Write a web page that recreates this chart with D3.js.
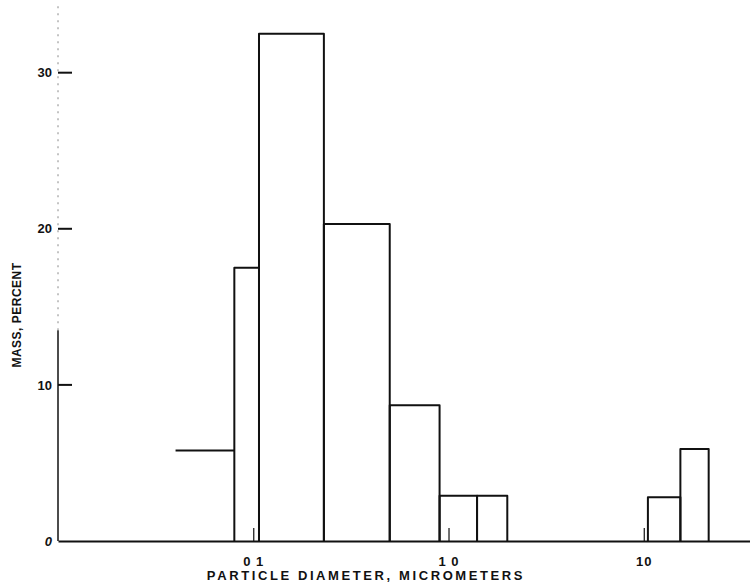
<!DOCTYPE html>
<html>
<head>
<meta charset="utf-8">
<script src="https://cdn.jsdelivr.net/npm/d3@7"></script>
<style>
  body { margin: 0; background: #fff; }
  text { font-family: "Liberation Sans", Arial, sans-serif; font-weight: bold; fill: #111; }
</style>
</head>
<body>
<div id="chart"></div>
<script>
// bin edges (micrometers) and mass percent per bin
var binLo   = [0.04, 0.08, 0.107, 0.23, 0.5, 0.9, 1.4, 10.5, 15.4];
var binHi   = [0.08, 0.107, 0.23, 0.5, 0.9, 1.4, 2.0, 15.4, 21.5];
var massPct = [5.8, 17.5, 32.5, 20.3, 8.7, 2.9, 2.9, 2.8, 5.9];

var xTicks = [0.1, 1, 10];
var xTickLabels = ["0 1", "1 0", "10"];
var yTicks = [0, 10, 20, 30];

var width = 750, height = 585;

var svg = d3.select("#chart")
  .append("svg")
    .attr("width", width)
    .attr("height", height);

var x = d3.scaleLog()
  .domain([0.01, 35])
  .range([58, 750]);

var y = d3.scaleLinear()
  .domain([0, 34.4])
  .range([541, 4]);

var axisX = x(0.01);

// y axis: solid lower part, faded upper part (as in the scan)
svg.append("line")
  .attr("x1", axisX).attr("x2", axisX)
  .attr("y1", y(0)).attr("y2", y(13.5))
  .attr("stroke", "#111").attr("stroke-width", 1.5);
svg.append("line")
  .attr("x1", axisX).attr("x2", axisX)
  .attr("y1", y(13.5)).attr("y2", y(34.4))
  .attr("stroke", "#888").attr("stroke-width", 1)
  .attr("stroke-dasharray", "2,5");

var yAxis = svg.append("g")
  .attr("transform", "translate(" + axisX + ",0)")
  .call(d3.axisLeft(y)
    .tickValues(yTicks)
    .tickSize(0)
    .tickPadding(6)
    .tickFormat(d3.format("d")));
yAxis.select(".domain").remove();
yAxis.selectAll(".tick text")
  .style("font-size", "13px")
  .style("font-style", function(d) { return d === 0 ? "italic" : "normal"; });

// inward tick marks on the y axis
svg.append("g")
  .attr("class", "ytickmarks")
  .selectAll("rect")
  .data(yTicks.slice(1))
  .enter().append("rect")
    .attr("x", axisX)
    .attr("y", function(d) { return y(d) - 1; })
    .attr("width", 14)
    .attr("height", 2)
    .attr("fill", "#111");

// x axis along the baseline
var xAxis = svg.append("g")
  .attr("transform", "translate(0," + y(0) + ")")
  .call(d3.axisBottom(x)
    .tickValues(xTicks)
    .tickSizeInner(-13)
    .tickSizeOuter(0)
    .tickPadding(16)
    .tickFormat(function(d, i) { return xTickLabels[i]; }));
xAxis.select(".domain").attr("stroke", "#111").attr("stroke-width", 2);
xAxis.selectAll(".tick line").attr("stroke", "#111").attr("stroke-width", 1.2);
xAxis.selectAll(".tick text").style("font-size", "13px").style("letter-spacing", "1px");

// histogram bars as open outlines (left, top, right)
var bins = d3.range(massPct.length).map(function(i) {
  return {lo: binLo[i], hi: binHi[i], v: massPct[i], i: i};
});

svg.append("g").selectAll("path")
  .data(bins)
  .enter().append("path")
    .attr("d", function(d) {
      var xa = x(d.lo), xb = x(d.hi), y0 = y(0), yv = y(d.v);
      if (d.i === 0) {
        // lowest bin is drawn as a bare level line
        return "M" + xa + "," + yv + "H" + xb;
      }
      return "M" + xa + "," + y0 + "V" + yv + "H" + xb + "V" + y0;
    })
    .attr("fill", "none")
    .attr("stroke", "#111")
    .attr("stroke-width", 2)
    .attr("stroke-linejoin", "round");

// axis titles
svg.append("text")
  .attr("x", 366)
  .attr("y", 580)
  .attr("text-anchor", "middle")
  .style("font-size", "13px")
  .style("letter-spacing", "2.6px")
  .text("PARTICLE DIAMETER, MICROMETERS");

svg.append("text")
  .attr("transform", "translate(21,315) rotate(-90)")
  .attr("text-anchor", "middle")
  .style("font-size", "12px")
  .style("letter-spacing", "0.5px")
  .text("MASS, PERCENT");
</script>
</body>
</html>
